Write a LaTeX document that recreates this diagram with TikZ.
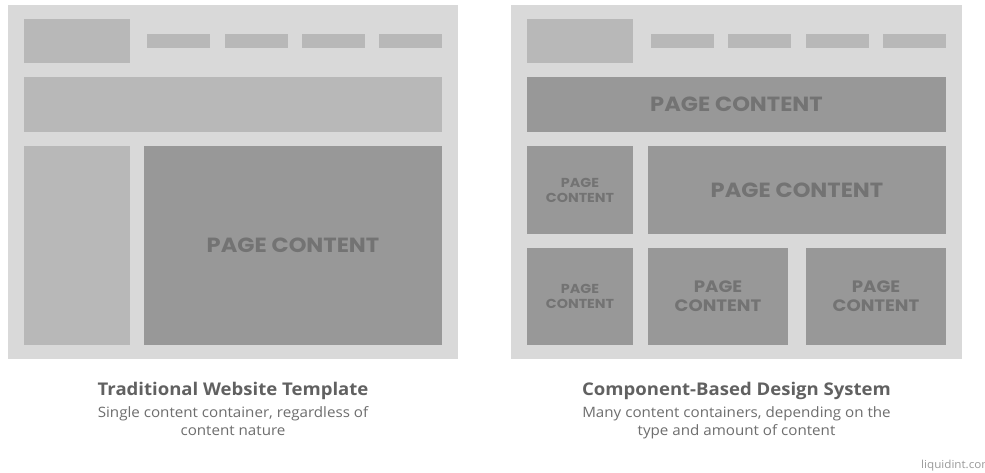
\documentclass[tikz,border=0pt]{standalone}
\usepackage{fontspec}
\setmainfont[FakeStretch=1.06]{Open Sans}
\newfontfamily\boxfont[FakeStretch=1.1]{Poppins}
\definecolor{panelbg}{HTML}{D9D9D9}
\definecolor{lightblk}{HTML}{B8B8B8}
\definecolor{darkblk}{HTML}{989898}
\definecolor{blktext}{HTML}{737373}
\definecolor{captitle}{HTML}{616161}
\definecolor{capsub}{HTML}{6E6E6E}
\definecolor{credit}{HTML}{999999}
\begin{document}
\begin{tikzpicture}[x=1pt,y=-1pt,
  blk/.style={anchor=north west, inner sep=0pt, outer sep=0pt, draw=none},
  panel/.style={blk, fill=panelbg},
  lightbox/.style={blk, fill=lightblk},
  darkbox/.style={blk, fill=darkblk},
  biglabel/.style={text=blktext, font={\boxfont\bfseries\fontsize{20.5}{22}\selectfont}},
  midlabel/.style={text=blktext, align=center, font={\boxfont\bfseries\fontsize{16.5}{19}\selectfont}},
  smalllabel/.style={text=blktext, align=center, font={\boxfont\bfseries\fontsize{13}{15}\selectfont}},
  titletext/.style={anchor=base, text=captitle, font={\bfseries\fontsize{17.5}{20}\selectfont}},
  subtext/.style={anchor=base, text=capsub, align=center, font={\fontsize{14.3}{18}\selectfont}},
]
\useasboundingbox (0,0) rectangle (985,472);
\fill[white] (0,0) rectangle (985,472);

% ---- left panel
\node[panel, minimum width=450pt, minimum height=354pt] (panelL) at (8,5) {};
\node[lightbox, minimum width=106pt, minimum height=44pt] (logoL) at (24,19) {};
\node[lightbox, minimum width=63pt, minimum height=14pt] (navL1) at (147,34) {};
\node[lightbox, minimum width=63pt, minimum height=14pt] (navL2) at (225,34) {};
\node[lightbox, minimum width=63pt, minimum height=14pt] (navL3) at (302,34) {};
\node[lightbox, minimum width=63pt, minimum height=14pt] (navL4) at (379,34) {};
\node[lightbox, minimum width=418pt, minimum height=55pt] (bannerL) at (24,77) {};
\node[lightbox, minimum width=106pt, minimum height=199pt] (sideL) at (24,146) {};
\node[darkbox, minimum width=298pt, minimum height=199pt] (mainL) at (144,146) {};
\node[biglabel] (mainLtext) at (mainL.center) {PAGE CONTENT};

% ---- right panel
\node[panel, minimum width=451pt, minimum height=354pt] (panelR) at (511,5) {};
\node[lightbox, minimum width=106pt, minimum height=44pt] (logoR) at (527,19) {};
\node[lightbox, minimum width=63pt, minimum height=14pt] (navR1) at (651,34) {};
\node[lightbox, minimum width=63pt, minimum height=14pt] (navR2) at (728,34) {};
\node[lightbox, minimum width=63pt, minimum height=14pt] (navR3) at (806,34) {};
\node[lightbox, minimum width=63pt, minimum height=14pt] (navR4) at (883,34) {};
\node[darkbox, minimum width=419pt, minimum height=55pt] (bannerR) at (527,77) {};
\node[biglabel] (bannerRtext) at (bannerR.center) {PAGE CONTENT};
\node[darkbox, minimum width=106pt, minimum height=88pt] (r2a) at (527,146) {};
\node[smalllabel] (r2atext) at (r2a.center) {PAGE\\CONTENT};
\node[darkbox, minimum width=298pt, minimum height=88pt] (r2b) at (648,146) {};
\node[biglabel] (r2btext) at (r2b.center) {PAGE CONTENT};
\node[darkbox, minimum width=106pt, minimum height=97pt] (r3a) at (527,248) {};
\node[smalllabel] (r3atext) at (r3a.center) {PAGE\\CONTENT};
\node[darkbox, minimum width=140pt, minimum height=97pt] (r3b) at (648,248) {};
\node[midlabel] (r3btext) at (r3b.center) {PAGE\\CONTENT};
\node[darkbox, minimum width=140pt, minimum height=97pt] (r3c) at (806,248) {};
\node[midlabel] (r3ctext) at (r3c.center) {PAGE\\CONTENT};

% ---- captions
\node[titletext] (titleL) at (233,395) {Traditional Website Template};
\node[subtext] (subL) at (233,435) {Single content container, regardless of\\content nature};
\node[titletext] (titleR) at (736.5,395) {Component-Based Design System};
\node[subtext] (subR) at (736.5,435) {Many content containers, depending on the\\type and amount of content};
\node[anchor=base west, inner sep=0pt, text=credit, font={\fontsize{11}{12}\selectfont}] (credit) at (921,468) {liquidint.com};
\end{tikzpicture}
\end{document}
